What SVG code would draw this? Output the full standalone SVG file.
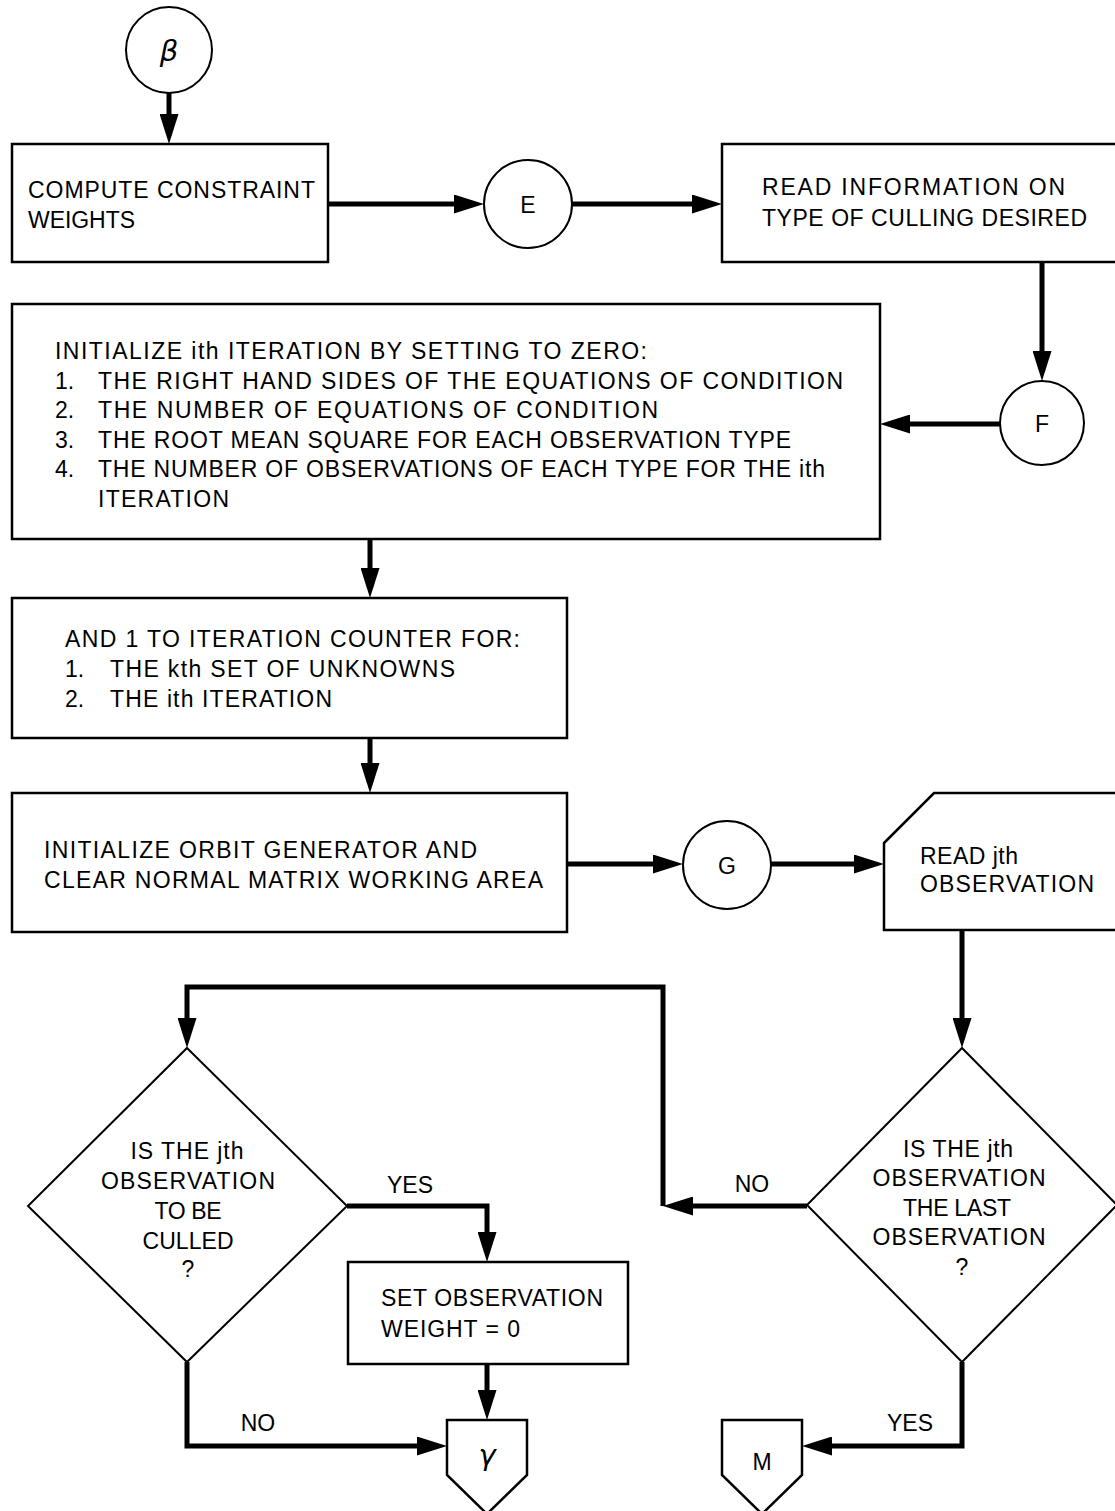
<svg xmlns="http://www.w3.org/2000/svg" width="1115" height="1511" viewBox="0 0 1115 1511">
  <style>
    .box { fill: #fff; stroke: #000; stroke-width: 2.5; }
    .ring { fill: #fff; stroke: #000; stroke-width: 2; }
    .dec { fill: #fff; stroke: #000; stroke-width: 2; }
    .flow { fill: none; stroke: #000; stroke-width: 5; stroke-linejoin: miter; marker-end: url(#head); }
    text { font-family: "Liberation Sans", Arial, sans-serif; font-size: 23px; fill: #000; }
    .mid { text-anchor: middle; }
    .greek { font-family: "DejaVu Sans", "Liberation Sans", sans-serif; font-style: italic; font-size: 29px; }
  </style>
  <defs>
    <marker id="head" viewBox="0 0 30 19" refX="2" refY="9.5" markerWidth="30" markerHeight="19" markerUnits="userSpaceOnUse" orient="auto">
      <path d="M0,0 L30,9.5 L0,19 Z" fill="#000"/>
    </marker>
  </defs>
  <rect width="1115" height="1511" fill="#fff"/>

  <!-- flow lines; each ends short of its target so the marker tip touches the shape -->
  <g id="connectors">
    <path class="flow" d="M169,93 L169,116"/>
    <path class="flow" d="M328,204 L456,204"/>
    <path class="flow" d="M572,204 L694,204"/>
    <path class="flow" d="M1042,262 L1042,353"/>
    <path class="flow" d="M1000,424 L908,424"/>
    <path class="flow" d="M370,539 L370,570"/>
    <path class="flow" d="M370,738 L370,765"/>
    <path class="flow" d="M567,864 L655,864"/>
    <path class="flow" d="M771,864 L856,864"/>
    <path class="flow" d="M962,930 L962,1020"/>
    <path class="flow" d="M807,1206 L691,1206"/>
    <path class="flow" d="M663,1206 L663,987 L187,987 L187,1020"/>
    <path class="flow" d="M347,1206 L487,1206 L487,1234"/>
    <path class="flow" d="M487,1364 L487,1392"/>
    <path class="flow" d="M187,1362 L187,1446 L419,1446"/>
    <path class="flow" d="M962,1362 L962,1446 L830,1446"/>
    <text x="752" y="1192" class="mid">NO</text>
    <text x="410" y="1193" class="mid">YES</text>
    <text x="258" y="1431" class="mid">NO</text>
    <text x="910" y="1431" class="mid">YES</text>
  </g>

  <g id="beta">
    <circle class="ring" cx="169" cy="50" r="43"/>
    <text x="169" y="61" class="mid greek">β</text>
  </g>

  <g id="compute-weights">
    <rect class="box" x="12" y="144" width="316" height="118"/>
    <text x="28" y="198" textLength="287">COMPUTE CONSTRAINT</text>
    <text x="28" y="228" textLength="107">WEIGHTS</text>
  </g>

  <g id="E">
    <circle class="ring" cx="528" cy="204" r="44"/>
    <text x="528" y="213" class="mid">E</text>
  </g>

  <g id="read-culling">
    <rect class="box" x="722" y="144" width="420" height="118"/>
    <text x="762" y="195" textLength="303">READ INFORMATION ON</text>
    <text x="762" y="226" textLength="325">TYPE OF CULLING DESIRED</text>
  </g>

  <g id="F">
    <circle class="ring" cx="1042" cy="423" r="42"/>
    <text x="1042" y="432" class="mid">F</text>
  </g>

  <g id="init-iteration">
    <rect class="box" x="12" y="304" width="868" height="235"/>
    <text x="55" y="359" textLength="592">INITIALIZE ith ITERATION BY SETTING TO ZERO:</text>
    <text x="55" y="389">1.</text>
    <text x="98" y="389" textLength="745">THE RIGHT HAND SIDES OF THE EQUATIONS OF CONDITION</text>
    <text x="55" y="418">2.</text>
    <text x="98" y="418" textLength="560">THE NUMBER OF EQUATIONS OF CONDITION</text>
    <text x="55" y="448">3.</text>
    <text x="98" y="448" textLength="693">THE ROOT MEAN SQUARE FOR EACH OBSERVATION TYPE</text>
    <text x="55" y="477">4.</text>
    <text x="98" y="477" textLength="727">THE NUMBER OF OBSERVATIONS OF EACH TYPE FOR THE ith</text>
    <text x="98" y="507" textLength="131">ITERATION</text>
  </g>

  <g id="iteration-counter">
    <rect class="box" x="12" y="598" width="555" height="140"/>
    <text x="65" y="647" textLength="455">AND 1 TO ITERATION COUNTER FOR:</text>
    <text x="65" y="677">1.</text>
    <text x="110" y="677" textLength="345">THE kth SET OF UNKNOWNS</text>
    <text x="65" y="707">2.</text>
    <text x="110" y="707" textLength="222">THE ith ITERATION</text>
  </g>

  <g id="init-orbit">
    <rect class="box" x="12" y="793" width="555" height="139"/>
    <text x="44" y="858" textLength="433">INITIALIZE ORBIT GENERATOR AND</text>
    <text x="44" y="888" textLength="499">CLEAR NORMAL MATRIX WORKING AREA</text>
  </g>

  <g id="G">
    <circle class="ring" cx="727" cy="865" r="44"/>
    <text x="727" y="874" class="mid">G</text>
  </g>

  <g id="read-observation">
    <path class="box" d="M884,843 L934,793 L1140,793 L1140,930 L884,930 Z"/>
    <text x="920" y="864" textLength="98">READ jth</text>
    <text x="920" y="892" textLength="174">OBSERVATION</text>
  </g>

  <g id="last-observation">
    <polygon class="dec" points="962,1048 1117,1205 962,1362 807,1205"/>
    <text x="958" y="1157" class="mid" textLength="110">IS THE jth</text>
    <text x="959" y="1186" class="mid" textLength="173">OBSERVATION</text>
    <text x="957" y="1216" class="mid" textLength="108">THE LAST</text>
    <text x="959" y="1245" class="mid" textLength="173">OBSERVATION</text>
    <text x="962" y="1275" class="mid">?</text>
  </g>

  <g id="culled">
    <polygon class="dec" points="187,1048 347,1206 187,1362 28,1206"/>
    <text x="187" y="1159" class="mid" textLength="113">IS THE jth</text>
    <text x="188" y="1189" class="mid" textLength="174">OBSERVATION</text>
    <text x="188" y="1219" class="mid" textLength="67">TO BE</text>
    <text x="188" y="1249" class="mid" textLength="91">CULLED</text>
    <text x="188" y="1277" class="mid">?</text>
  </g>

  <g id="set-weight">
    <rect class="box" x="348" y="1262" width="280" height="102"/>
    <text x="381" y="1306" textLength="222">SET OBSERVATION</text>
    <text x="381" y="1337" textLength="139">WEIGHT = 0</text>
  </g>

  <g id="gamma">
    <path class="box" d="M447,1420 L527,1420 L527,1475 L487,1514 L447,1475 Z"/>
    <text x="487" y="1465" class="mid greek">γ</text>
  </g>

  <g id="M">
    <path class="box" d="M722,1420 L802,1420 L802,1475 L762,1514 L722,1475 Z"/>
    <text x="762" y="1470" class="mid">M</text>
  </g>
</svg>
